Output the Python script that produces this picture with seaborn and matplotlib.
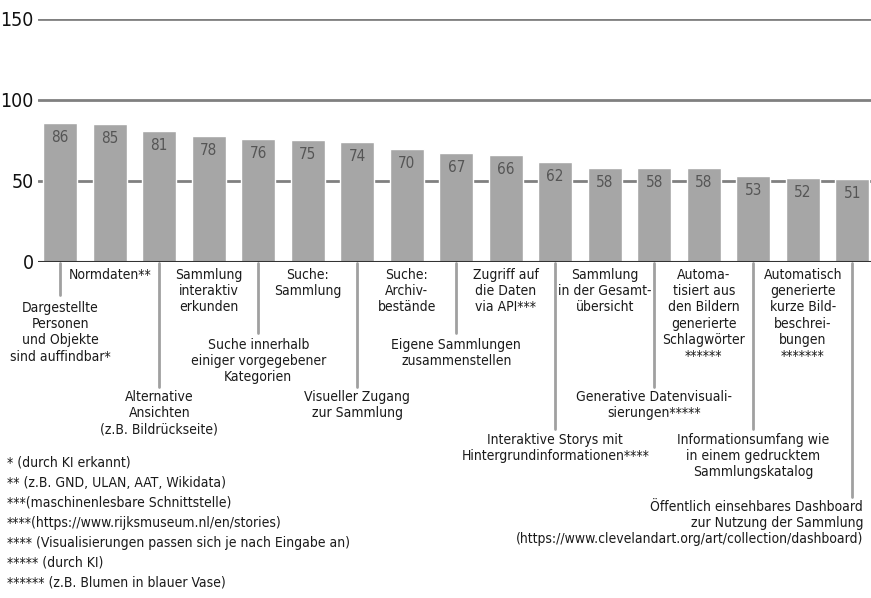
import pandas as pd
import seaborn as sns
import matplotlib.pyplot as plt
from matplotlib.transforms import blended_transform_factory

sns.set_style('white')
plt.rcParams['font.family'] = ['DejaVu Sans']
plt.rcParams['font.stretch'] = 'condensed'

# --- data ---
features = [
    "Dargestellte\nPersonen\nund Objekte\nsind auffindbar*",
    "Normdaten**",
    "Alternative\nAnsichten\n(z.B. Bildrückseite)",
    "Sammlung\ninteraktiv\nerkunden",
    "Suche innerhalb\neiniger vorgegebener\nKategorien",
    "Suche:\nSammlung",
    "Visueller Zugang\nzur Sammlung",
    "Suche:\nArchiv-\nbestände",
    "Eigene Sammlungen\nzusammenstellen",
    "Zugriff auf\ndie Daten\nvia API***",
    "Interaktive Storys mit\nHintergrundinformationen****",
    "Sammlung\nin der Gesamt-\nübersicht",
    "Generative Datenvisuali-\nsierungen*****",
    "Automa-\ntisiert aus\nden Bildern\ngenerierte\nSchlagwörter\n******",
    "Informationsumfang wie\nin einem gedrucktem\nSammlungskatalog",
    "Automatisch\ngenerierte\nkurze Bild-\nbeschrei-\nbungen\n*******",
    "Öffentlich einsehbares Dashboard\nzur Nutzung der Sammlung\n(https://www.clevelandart.org/art/collection/dashboard)",
]
values = [86, 85, 81, 78, 76, 75, 74, 70, 67, 66, 62, 58, 58, 58, 53, 52, 51]
# staggered label row for each bar (0 = directly under axis)
label_level = [1, 0, 3, 0, 2, 0, 3, 0, 2, 0, 4, 0, 3, 0, 4, 0, 5]

footnotes = [
    "* (durch KI erkannt)",
    "** (z.B. GND, ULAN, AAT, Wikidata)",
    "***(maschinenlesbare Schnittstelle)",
    "****(https://www.rijksmuseum.nl/en/stories)",
    "**** (Visualisierungen passen sich je nach Eingabe an)",
    "***** (durch KI)",
    "****** (z.B. Blumen in blauer Vase)",
]

df = pd.DataFrame({'feature': features, 'value': values})

W, H = 871, 598
fig = plt.figure(figsize=(W / 100, H / 100), dpi=100)
ax = fig.add_axes([38 / W, 1 - 262 / H, (W - 38) / W, (262 - 19) / H])

sns.barplot(data=df, x='feature', y='value', color='#a6a6a6', saturation=1,
            width=0.69, ax=ax, zorder=3)

ax.set_ylim(0, 150)
ax.set_xlim(-0.45, 16.38)
ax.set_yticks([0, 50, 100, 150])
ax.set_xticks([])
ax.set_xlabel('')
ax.set_ylabel('')
for y in [50, 100, 150]:
    ax.axhline(y, color='#808080', lw=2, zorder=1)
ax.axhline(0, color='#333333', lw=1.5, zorder=4)
for s in ax.spines.values():
    s.set_visible(False)
ax.tick_params(axis='y', length=0, pad=3, labelsize=14, colors='#111111')

# value labels inside bars
for i, v in enumerate(values):
    ax.annotate(str(v), (i, v), xytext=(0, -5), textcoords='offset points',
                ha='center', va='top', fontsize=11, color='#555555', zorder=5)

# staggered category labels with leader lines
trans = blended_transform_factory(ax.transData, fig.transFigure)
text_top = {0: 268, 1: 301, 2: 338, 3: 390, 4: 433, 5: 500}
line_end = {1: 295, 2: 333, 3: 387, 4: 429, 5: 497}
for i, (lab, lvl) in enumerate(zip(features, label_level)):
    if lvl > 0:
        ax.plot([i, i], [1 - 263 / H, 1 - line_end[lvl] / H], transform=trans,
                color='#a0a0a0', lw=2, clip_on=False)
    if i == len(features) - 1:
        fig.text(16.22, 1 - text_top[lvl] / H, lab, transform=trans, ha='right',
                 va='top', multialignment='right', fontsize=10,
                 color='#1a1a1a', linespacing=1.2)
    else:
        fig.text(i, 1 - text_top[lvl] / H, lab, transform=trans, ha='center',
                 va='top', multialignment='center', fontsize=10,
                 color='#1a1a1a', linespacing=1.2)

# footnotes
for k, note in enumerate(footnotes):
    fig.text(7 / W, 1 - (463 + 20 * k) / H, note, ha='left', va='center',
             fontsize=10, color='#1a1a1a')

fig.savefig('out.png', dpi=100)
